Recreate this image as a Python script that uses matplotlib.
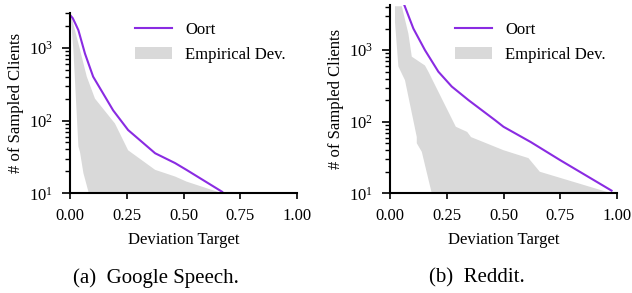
import matplotlib
matplotlib.use("Agg")
import matplotlib.pyplot as plt
import numpy as np

plt.rcParams['font.family'] = ['Liberation Serif', 'DejaVu Serif']
plt.rcParams['mathtext.fontset'] = 'stix'
plt.rcParams['font.size'] = 12

# ---- Google Speech ----
gs_oort_x = [0.003, 0.012, 0.025, 0.037, 0.066, 0.102, 0.19, 0.256, 0.375, 0.463, 0.513, 0.67]
gs_oort_y = [2750, 2550, 2100, 1740, 830, 400, 138, 74, 35.5, 26, 21, 10.5]
gs_hi_x = [0.003, 0.012, 0.044, 0.074, 0.11, 0.198, 0.256, 0.375, 0.463, 0.513, 0.67]
gs_hi_y = [2750, 2300, 940, 400, 200, 91, 39, 21, 17, 14.5, 10]
gs_lo_x = [0.003, 0.005, 0.015, 0.037, 0.044, 0.059, 0.083]
gs_lo_y = [2750, 2300, 930, 44, 37, 19, 10]

# ---- Reddit ----
rd_oort_x = [0.063, 0.103, 0.154, 0.213, 0.272, 0.346, 0.463, 0.50, 0.62, 0.75, 0.976]
rd_oort_y = [4270, 2000, 1000, 500, 310, 200, 105, 85, 52, 29, 10.9]
rd_hi_x = [0.052, 0.081, 0.096, 0.154, 0.169, 0.29, 0.34, 0.357, 0.50, 0.61, 0.66, 0.976]
rd_hi_y = [4100, 1700, 810, 610, 500, 85, 72, 61, 40, 31, 20, 10]
rd_lo_x = [0.022, 0.022, 0.037, 0.066, 0.118, 0.118, 0.14, 0.184]
rd_lo_y = [4100, 2450, 590, 380, 61, 50, 38, 10]

panels = [
    dict(ox=gs_oort_x, oy=gs_oort_y, hx=gs_hi_x, hy=gs_hi_y, lx=gs_lo_x, ly=gs_lo_y,
         ytop=3000, rect=[70/632, 99.7/293, 227/632, 180.3/293],
         cap='(a)  Google Speech.', cx=156, lx0=126.7),
    dict(ox=rd_oort_x, oy=rd_oort_y, hx=rd_hi_x, hy=rd_hi_y, lx=rd_lo_x, ly=rd_lo_y,
         ytop=4270, rect=[390/632, 99.7/293, 227/632, 188.3/293],
         cap='(b)  Reddit.', cx=477, lx0=446.7),
]

fig = plt.figure(figsize=(6.32, 2.93), dpi=100)

for p in panels:
    ax = fig.add_axes(p['rect'])
    px = np.concatenate([p['hx'], p['lx'][::-1]])
    py = np.concatenate([p['hy'], p['ly'][::-1]])
    ax.fill(px, py, color='#d9d9d9', lw=0, label='Empirical Dev.')
    ax.plot(p['ox'], p['oy'], color='#8a2be2', lw=1.5, label='Oort')
    ax.set_yscale('log')
    ax.set_xlim(0, 1)
    ax.set_ylim(10, p['ytop'])
    ax.set_xticks([0, 0.25, 0.5, 0.75, 1.0])
    ax.set_xticklabels(['0.00', '0.25', '0.50', '0.75', '1.00'])
    ax.spines['top'].set_visible(False)
    ax.spines['right'].set_visible(False)
    ax.tick_params(axis='x', direction='out', length=4.3, width=1.2, pad=6)
    ax.tick_params(axis='y', which='major', direction='out', length=5.8, width=1.2, pad=6.4)
    ax.tick_params(axis='y', which='minor', direction='out', length=3.6, width=1)
    for s in ['left', 'bottom']:
        ax.spines[s].set_linewidth(1.5)
    ax.set_xlabel('Deviation Target', labelpad=6)
    ax.set_ylabel('# of Sampled Clients', labelpad=3.5)
    h, l = ax.get_legend_handles_labels()
    ax.legend(h[::-1], l[::-1], loc='upper left', bbox_to_anchor=(p['lx0'] / 632, 1 - 14 / 293),
              bbox_transform=fig.transFigure, frameon=False, borderpad=0,
              handlelength=2.2, handleheight=0.78, labelspacing=0.5, handletextpad=0.8)
    fig.text(p['cx'] / 632, 1 - 278 / 293, p['cap'], ha='center', va='center', fontsize=15)

fig.savefig('out.png', dpi=100)
